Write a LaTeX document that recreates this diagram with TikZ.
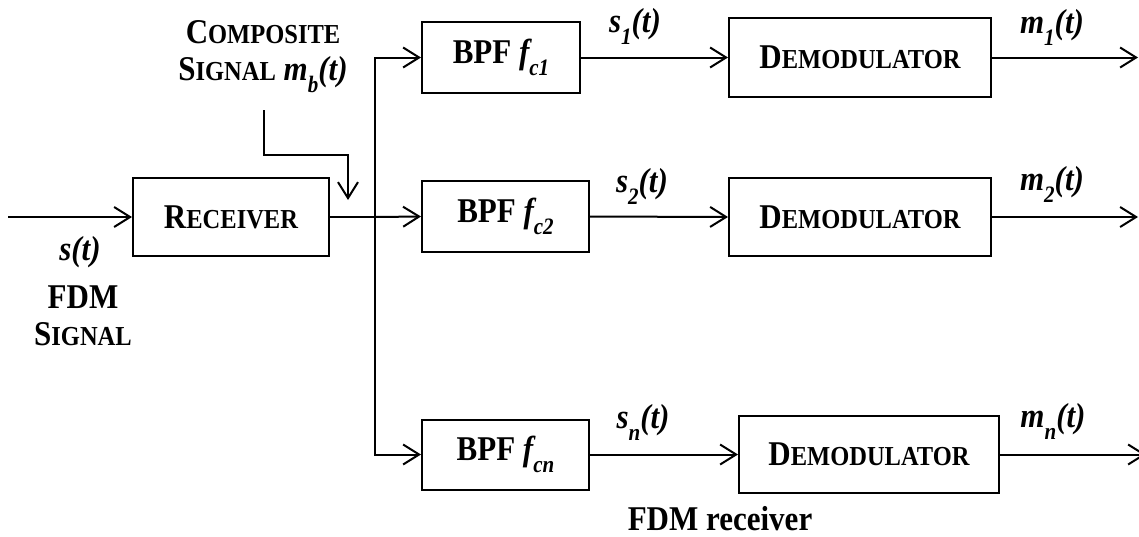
\documentclass[tikz,border=0pt]{standalone}
\usepackage{fontspec}
\usepackage{graphicx}
\setmainfont{Liberation Serif}
\usetikzlibrary{arrows.meta}
\newcommand\smc[1]{{\fontsize{24.5}{30}\selectfont #1}}
\newcommand\lsub[1]{\raisebox{-11pt}{\fontsize{21}{24}\selectfont #1}}
\newcommand\vs[1]{\scalebox{1}[1.12]{#1}}
\begin{document}
\begin{tikzpicture}[x=1pt,y=-1pt, line width=2pt,
  >={Straight Barb[length=16pt,width=20pt]},
  blk/.style={draw, line width=2pt, inner sep=0pt, font=\fontsize{31}{37}\selectfont\bfseries},
  lab/.style={inner sep=0pt, font=\fontsize{31}{37}\selectfont\bfseries\itshape, anchor=base},
  txt/.style={inner sep=0pt, font=\fontsize{31}{37}\selectfont\bfseries, anchor=base}]
\useasboundingbox (0,0) rectangle (1139,536);
% blocks
\node[blk, minimum width=196pt, minimum height=78pt] (rec) at (231,217) {\vs{R\smc{ECEIVER}}};
\node[blk, minimum width=158pt, minimum height=71pt] (bpf1) at (501,57.5) {\vs{BPF {\itshape f\lsub{c1}}}};
\node[blk, minimum width=167pt, minimum height=71pt] (bpf2) at (505.5,216.5) {\vs{BPF {\itshape f\lsub{c2}}}};
\node[blk, minimum width=167pt, minimum height=70pt] (bpfn) at (505.5,454.5) {\vs{BPF {\itshape f\lsub{cn}}}};
\node[blk, minimum width=262pt, minimum height=79pt] (dem1) at (860,57.5) {\vs{D\smc{EMODULATOR}}};
\node[blk, minimum width=262pt, minimum height=78pt] (dem2) at (860,217) {\vs{D\smc{EMODULATOR}}};
\node[blk, minimum width=260pt, minimum height=77pt] (demn) at (869,454.5) {\vs{D\smc{EMODULATOR}}};
% coordinates
\coordinate (in) at (8,217);
\coordinate (j) at (375,217);
\coordinate (c0) at (264,110);
\coordinate (c1) at (348,200);
\coordinate (o1) at (1138,57.5);
\coordinate (o2) at (1138,217);
\coordinate (on) at (1146,454.5);
% connectors
\draw[->] (in) -- (rec.west);
\draw[->] (c0) |- (348,155) -- (c1);
\draw (rec.east) -- (j);
\draw[->] (j) -- (bpf2.west);
\draw[->] (j) |- (bpf1.west);
\draw[->] (j) |- (bpfn.west);
\draw[->] (bpf1.east) -- (dem1.west);
\draw[->] (bpf2.east) -- (dem2.west);
\draw[->] (bpfn.east) -- (demn.west);
\draw[->] (dem1.east) -- (o1);
\draw[->] (dem2.east) -- (o2);
\draw[->] (demn.east) -- (on);
% labels
\node[txt] (comp1) at (263,43) {\vs{C\smc{OMPOSITE}}};
\node[txt] (comp2) at (263,80) {\vs{S\smc{IGNAL} {\itshape m\lsub{b}(t)}}};
\node[lab] (st) at (80,260) {\vs{s(t)}};
\node[txt] (fdm1) at (83,308) {\vs{FDM}};
\node[txt] (fdm2) at (83,345) {\vs{S\smc{IGNAL}}};
\node[lab] (s1) at (635,32) {\vs{s\lsub{1}(t)}};
\node[lab] (s2) at (642,192) {\vs{s\lsub{2}(t)}};
\node[lab] (sn) at (643,428) {\vs{s\lsub{n}(t)}};
\node[lab] (m1) at (1052,33) {\vs{m\lsub{1}(t)}};
\node[lab] (m2) at (1052,190) {\vs{m\lsub{2}(t)}};
\node[lab] (mn) at (1053,427) {\vs{m\lsub{n}(t)}};
\node[txt] (cap) at (720,530) {\vs{FDM receiver}};
\end{tikzpicture}
\end{document}
